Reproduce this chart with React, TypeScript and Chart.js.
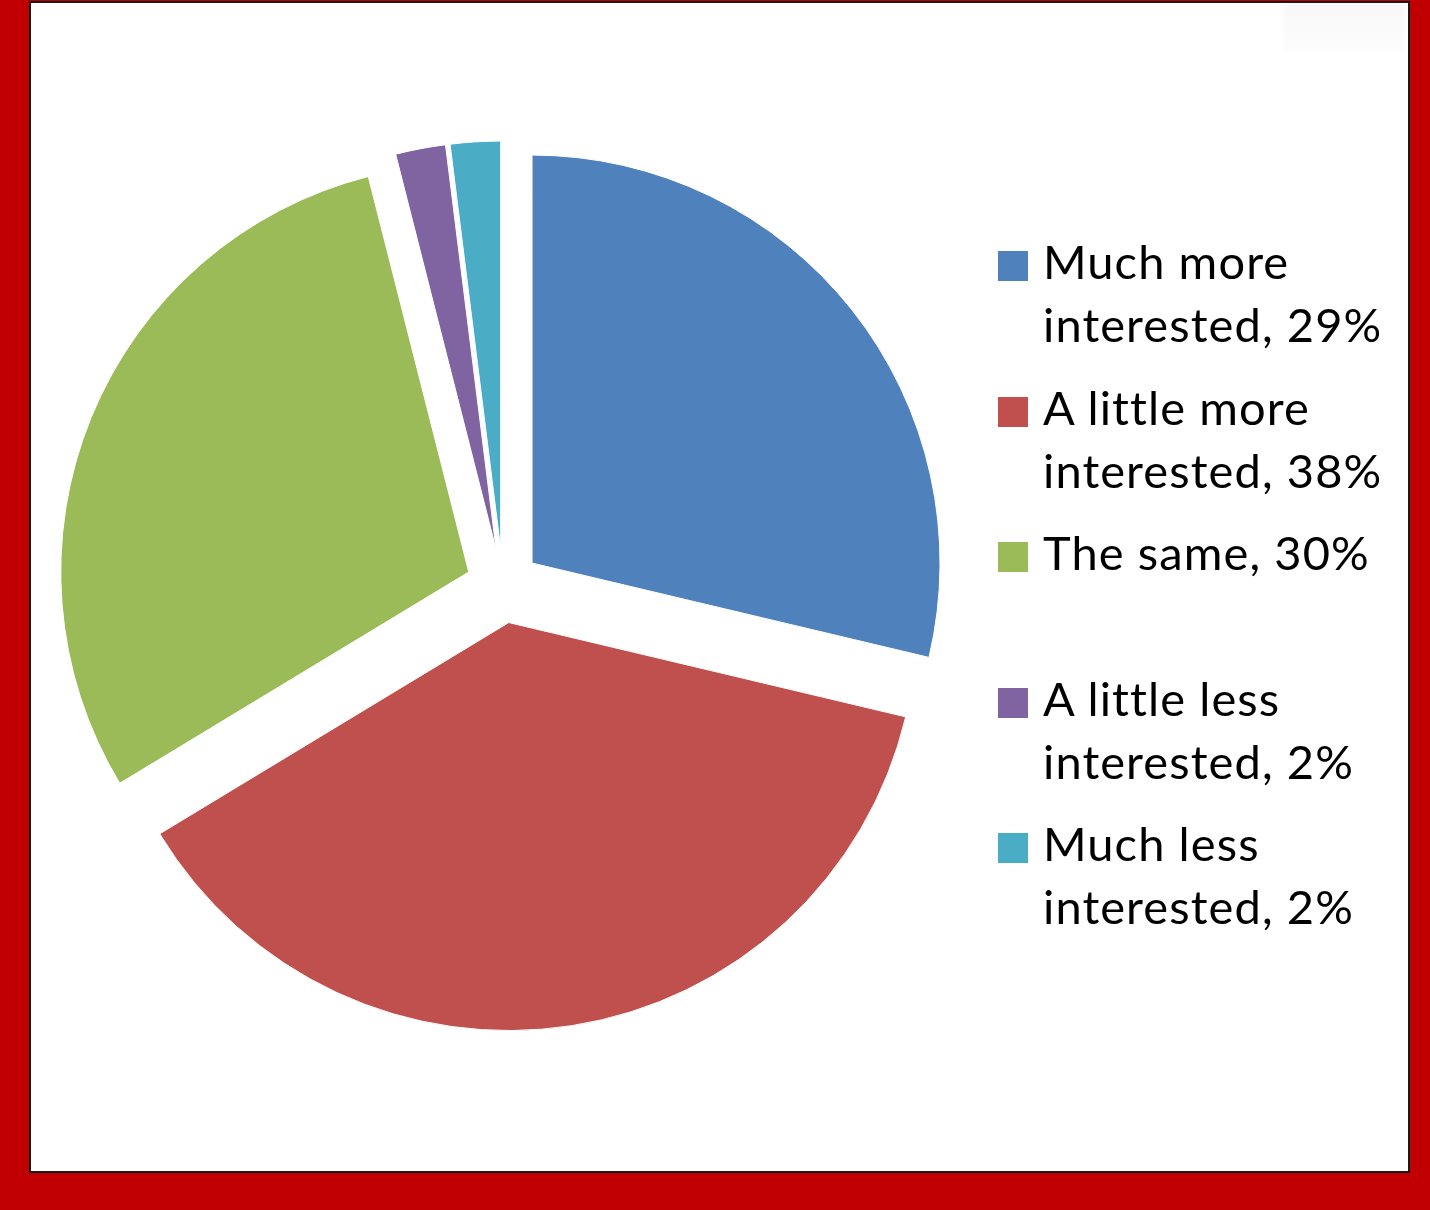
import React, { useEffect, useRef } from "react";
import { Chart, registerables } from "chart.js";

Chart.register(...registerables);

const categories = [
  "Much more interested",
  "A little more interested",
  "The same",
  "A little less interested",
  "Much less interested",
];
const percentValues = [29, 38, 30, 2, 2];
const legendLines = [
  ["Much more", "interested, 29%"],
  ["A little more", "interested, 38%"],
  ["The same, 30%"],
  ["A little less", "interested, 2%"],
  ["Much less", "interested, 2%"],
];
const sliceColors = ["#4F81BD", "#C0504D", "#9BBB59", "#8064A2", "#4BACC6"];

const PIE_RADIUS = 408;
const EXPLODE = 37; // visual shift in px
const OFFSET_OPT = EXPLODE * 4; // chart.js v4 translates arcs by offset/4

// Chart.js enlarges and narrows small exploded slices; undo that so every
// slice keeps the same radius and its true angle.
const explodeFixPlugin = {
  id: "explodeFix",
  beforeDatasetsDraw(chart: any) {
    const meta = chart.getDatasetMeta(0);
    meta.data.forEach((el: any) => {
      const circ = el.circumference || 0;
      const fix = 1 - Math.sin(Math.min(Math.PI, circ));
      const ro = (OFFSET_OPT / 4) * fix;
      el.outerRadius = PIE_RADIUS - ro;
      const mid = (el.startAngle + el.endAngle) / 2;
      const half = circ / 2 + ro / (2 * Math.PI * PIE_RADIUS);
      el.startAngle = mid - half;
      el.endAngle = mid + half;
    });
  },
};

export default function App() {
  const canvasRef = useRef<HTMLCanvasElement>(null);

  useEffect(() => {
    if (!canvasRef.current) return;
    const chart = new Chart(canvasRef.current, {
      type: "pie",
      data: {
        labels: categories,
        datasets: [
          {
            data: percentValues,
            backgroundColor: sliceColors,
            borderColor: "#ffffff",
            borderWidth: 1,
            offset: OFFSET_OPT,
            hoverOffset: OFFSET_OPT,
          },
        ],
      },
      options: {
        responsive: false,
        animation: false,
        events: [],
        radius: PIE_RADIUS,
        layout: { padding: { left: 0, right: 424, top: 0, bottom: 38 } },
        plugins: {
          legend: { display: false },
          tooltip: { enabled: false },
        },
      } as any,
      plugins: [explodeFixPlugin],
    });
    return () => chart.destroy();
  }, []);

  const fontFamily = "Lato, 'Open Sans', sans-serif";

  return (
    <div
      style={{
        position: "fixed",
        left: 0,
        top: 0,
        width: 1430,
        height: 1210,
        background: "#C00000",
        overflow: "hidden",
      }}
    >
      <div
        style={{
          position: "absolute",
          left: 29,
          top: 1,
          width: 1377,
          height: 1168,
          background: "#ffffff",
          border: "2px solid #1a1a1a",
        }}
      />
      <div
        style={{
          position: "absolute",
          left: 1283,
          top: 3,
          width: 122,
          height: 50,
          background:
            "linear-gradient(180deg, rgba(0,0,0,0.03), rgba(0,0,0,0.008))",
          filter: "blur(2px)",
        }}
      />
      <canvas
        ref={canvasRef}
        width={1430}
        height={1210}
        style={{ position: "absolute", left: 0, top: 0, width: 1430, height: 1210 }}
      />
      {legendLines.map((lines, i) => (
        <div
          key={i}
          style={{
            position: "absolute",
            left: 998,
            top: 230 + i * 145.5,
            fontFamily,
            fontSize: 47,
            letterSpacing: "1.1px",
            lineHeight: "63px",
            color: "#000",
          }}
        >
          <div
            style={{
              position: "absolute",
              left: 0,
              top: 21,
              width: 30,
              height: 30,
              background: sliceColors[i],
            }}
          />
          <div style={{ position: "absolute", left: 45, top: 0, whiteSpace: "nowrap" }}>
            {lines.map((t, j) => (
              <div key={j}>{t}</div>
            ))}
          </div>
        </div>
      ))}
    </div>
  );
}
